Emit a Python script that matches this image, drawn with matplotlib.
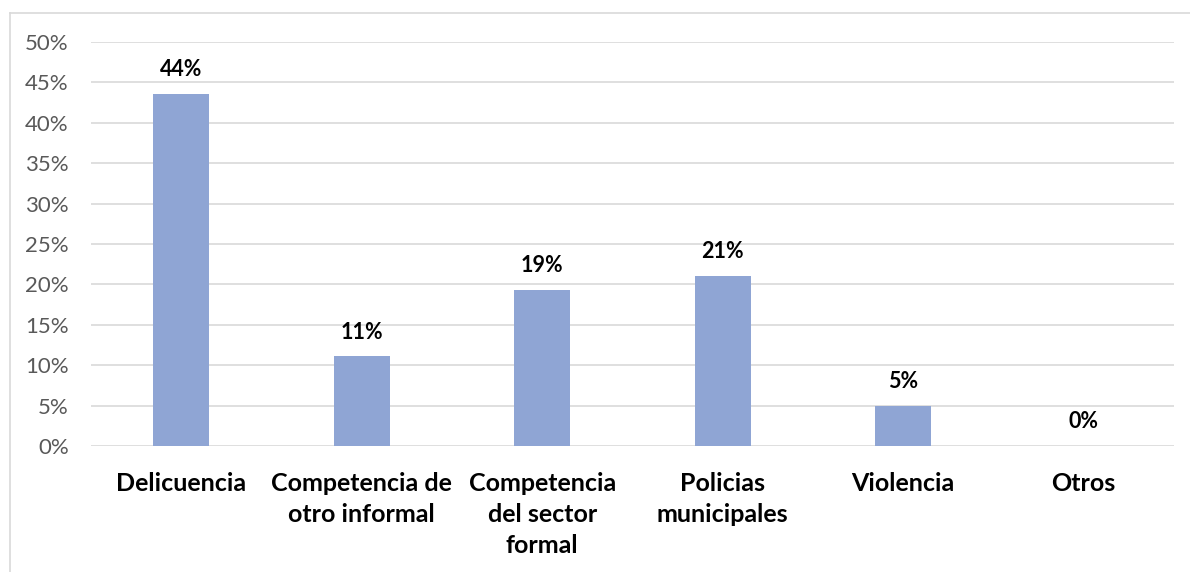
import matplotlib
matplotlib.use("Agg")
import matplotlib.pyplot as plt
from matplotlib.lines import Line2D
from matplotlib.ticker import FuncFormatter

plt.rcParams['font.family'] = ['Lato', 'DejaVu Sans']

# datos
categorias = ['Delicuencia', 'Competencia de\notro informal', 'Competencia\ndel sector\nformal',
              'Policias\nmunicipales', 'Violencia', 'Otros']
valores = [43.6, 11.1, 19.3, 21.1, 5.0, 0.0]
etiquetas = ['44%', '11%', '19%', '21%', '5%', '0%']
yticks = [0, 5, 10, 15, 20, 25, 30, 35, 40, 45, 50]

fig = plt.figure(figsize=(11.9, 5.72), dpi=100)
ax = fig.add_axes([91/1190, 1 - 446/572, (1174 - 91)/1190, (446 - 42)/572])

x = list(range(len(categorias)))
ax.bar(x, valores, width=0.31, color='#8FA5D4', zorder=3)

for xi, v, lab in zip(x, valores, etiquetas):
    ax.annotate(lab, (xi, v), xytext=(0, 17.5), textcoords='offset points',
                ha='center', va='center', fontsize=15.5, fontweight='bold', color='black')

ax.set_xlim(-0.5, len(categorias) - 0.5)
ax.set_ylim(0, 50)
ax.set_yticks(yticks)
ax.yaxis.set_major_formatter(FuncFormatter(lambda v, p: f'{v:.0f}%'))
ax.set_xticks(x)
ax.set_xticklabels(categorias, fontsize=18, fontweight='bold', color='black', linespacing=1.42)
ax.tick_params(axis='x', length=0, pad=18.5)
ax.tick_params(axis='y', length=0, pad=16, labelsize=16, labelcolor='#595959')
ax.grid(axis='y', color='#d9d9d9', linewidth=1.2, zorder=0)
for s in ax.spines.values():
    s.set_visible(False)

# borde del area del grafico (solo visible arriba e izquierda)
fig.add_artist(Line2D([10/1190, 10/1190], [0, 1 - 13/572], color='#d9d9d9', linewidth=1.2))
fig.add_artist(Line2D([10/1190, 1], [1 - 13/572, 1 - 13/572], color='#d9d9d9', linewidth=1.2))

fig.savefig('out.png', dpi=100)
